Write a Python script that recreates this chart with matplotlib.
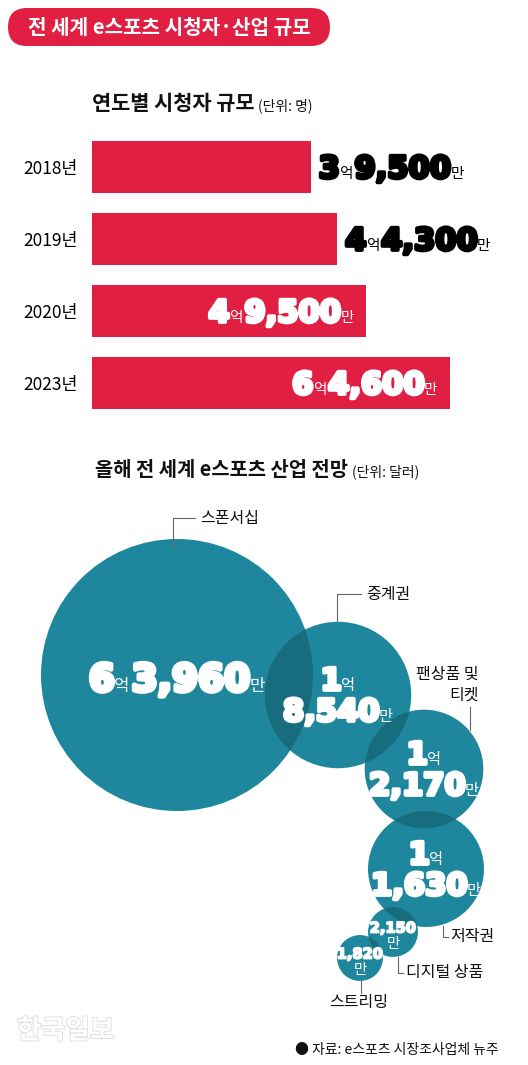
import numpy as np
import matplotlib
matplotlib.use('Agg')
import matplotlib.pyplot as plt
from matplotlib.patches import Circle, FancyBboxPatch
import matplotlib.patheffects as pe

plt.rcParams['font.family'] = ['Noto Sans CJK KR', 'DejaVu Sans']

# data
years = ['2018년', '2019년', '2020년', '2023년']
viewers = [39500, 44300, 49500, 64600]          # 만 명
segments = ['스폰서십', '중계권', '팬상품 및\n티켓', '저작권', '디지털 상품', '스트리밍']
revenue = [63960, 18540, 12170, 11630, 2150, 1820]  # 만 달러

RED = '#E11F43'
TEAL = '#1F879D'
DARK = '#176D7E'
W, H = 528, 1065

fig = plt.figure(figsize=(W / 100, H / 100), dpi=100)
fig.patch.set_facecolor('white')

# ---- bar chart ----
axb = fig.add_axes([92 / W, 1 - 419 / H, 436 / W, 288 / H])
axb.barh(range(len(years)), viewers, height=0.722, color=RED)
axb.set_ylim(len(years) - 0.5, -0.5)
axb.set_xlim(0, 436 / 0.005535)
axb.set_yticks(range(len(years)), years, fontsize=12.5)
axb.tick_params(axis='y', length=0, pad=10.5)
axb.set_xticks([])
for s in axb.spines.values():
    s.set_visible(False)
axb.patch.set_visible(False)

# overlay axes in pixel units
ax = fig.add_axes([0, 0, 1, 1])
ax.set_xlim(0, W)
ax.set_ylim(H, 0)
ax.axis('off')
ax.patch.set_visible(False)

renderer = fig.canvas.get_renderer()
DIG = dict(family='DejaVu Sans', weight='bold')


def num_kw(size, color):
    return dict(fontsize=size, color=color, **DIG,
                path_effects=[pe.withStroke(linewidth=size / 8, foreground=color)])


def rich(x, y, pieces, ha='left', gaps=None):
    objs, widths = [], []
    for s, kw in pieces:
        t = ax.text(0, y, s, va='baseline', **kw)
        objs.append(t)
        widths.append(t.get_window_extent(renderer).width)
    if gaps is None:
        # tighter after the heavy digits, a touch looser after the small hangul
        gaps = [-0.5 if 'path_effects' in kw else 1.8 for _, kw in pieces][:-1]
    total = sum(widths) + sum(gaps)
    start = {'left': x, 'center': x - total / 2, 'right': x - total}[ha]
    for j, (t, w) in enumerate(zip(objs, widths)):
        t.set_x(start)
        start += w + (gaps[j] if j < len(gaps) else 0)


def big_small(big, small, bsize, ssize, color):
    return [(big, num_kw(bsize, color)), (small, dict(fontsize=ssize, color=color))]


# title pill
ax.add_patch(FancyBboxPatch((8, 8), 322, 38, boxstyle='round,pad=0,rounding_size=19',
                            fc=RED, ec='none'))
ax.text(169, 28, '전 세계 e스포츠 시청자·산업 규모', color='white', fontsize=14.5,
        weight='bold', ha='center', va='center')

# subtitle 1
rich(92, 110, [('연도별 시청자 규모', dict(fontsize=15, weight='bold', color='#111')),
               ('(단위: 명)', dict(fontsize=10, color='#111'))], gaps=[4])

# bar labels
inside = [False, False, True, True]
for i, v in enumerate(viewers):
    x_end, y_c = axb.transData.transform((v, i))
    y_c = H - y_c
    col = 'white' if inside[i] else 'black'
    pieces = big_small(str(v // 10000), '억', 22, 10.5, col) + \
        big_small(f'{v % 10000:,}', '만', 22, 10.5, col)
    if inside[i]:
        rich(x_end - 12, y_c + 11, pieces, ha='right')
    else:
        rich(x_end + 8, y_c + 11, pieces, ha='left')

# subtitle 2
rich(95, 476, [('올해 전 세계 e스포츠 산업 전망', dict(fontsize=14.3, weight='bold', color='#111')),
               ('(단위: 달러)', dict(fontsize=10, color='#111'))], gaps=[4])

# ---- bubbles ----
centers = [(177, 675), (338, 695), (424, 769), (426, 869), (393, 932), (360, 958)]
k = 136 / np.sqrt(revenue[0])
radii = [k * np.sqrt(v) for v in revenue]
patches = []
for (cx, cy), r in zip(centers, radii):
    c = Circle((cx, cy), r, fc=TEAL, ec='none', zorder=2)
    ax.add_patch(c)
    patches.append(c)
for i in range(len(centers) - 1):
    (cx, cy), r = centers[i + 1], radii[i + 1]
    ov = Circle((cx, cy), r, fc=DARK, ec='none', zorder=3)
    ax.add_patch(ov)
    ov.set_clip_path(patches[i])

# bubble values
for i, v in enumerate(revenue):
    cx, cy = centers[i]
    if i == 0:
        rich(cx, cy + 16, big_small(str(v // 10000), '억', 27, 12, 'white')
             + big_small(f'{v % 10000:,}', '만', 27, 12, 'white'), ha='center')
    elif v >= 10000:
        rich(cx, cy - 16 + 11, big_small(str(v // 10000), '억', 22, 11, 'white'), ha='center')
        rich(cx, cy + 15 + 11, big_small(f'{v % 10000:,}', '만', 22, 11, 'white'), ha='center')
    else:
        ax.text(cx, cy - 4, f'{v:,}', ha='center', va='center', **num_kw(10.5, 'white'))
        ax.text(cx, cy + 12, '만', ha='center', va='center', fontsize=10.5, color='white')

for t in ax.texts:
    t.set_zorder(5)

# labels and leader lines
LINE = '#666666'
label_pos = [(200, 518, 'left'), (366, 594, 'left'), (479, 685, 'right'),
             (450, 937, 'left'), (406, 973, 'left'), (359, 1003, 'center')]
leaders = [[(173, 548), (173, 518), (195, 518)],
           [(337, 621), (337, 594), (361, 594)],
           [(470, 707), (470, 730)],
           [(443, 926), (443, 937), (448, 937)],
           [(398, 957), (398, 973), (403, 973)],
           [(361, 981), (361, 993)]]
for name, (lx, ly, ha), pts in zip(segments, label_pos, leaders):
    ax.text(lx, ly, name, ha=ha, va='center', fontsize=11.5, color='#111',
            linespacing=1.3, zorder=6)
    xs, ys = zip(*pts)
    ax.plot(xs, ys, color=LINE, lw=0.8, zorder=6)

# source and watermark
ax.text(499, 1050, '● 자료: e스포츠 시장조사업체 뉴주', ha='right', va='center',
        fontsize=10, color='#111')
ax.text(17, 1031, '한국일보', ha='left', va='center', fontsize=19, weight='bold',
        color='white', path_effects=[pe.withStroke(linewidth=1.4, foreground='#e0e0e0')])

fig.savefig('out.png', dpi=100)
